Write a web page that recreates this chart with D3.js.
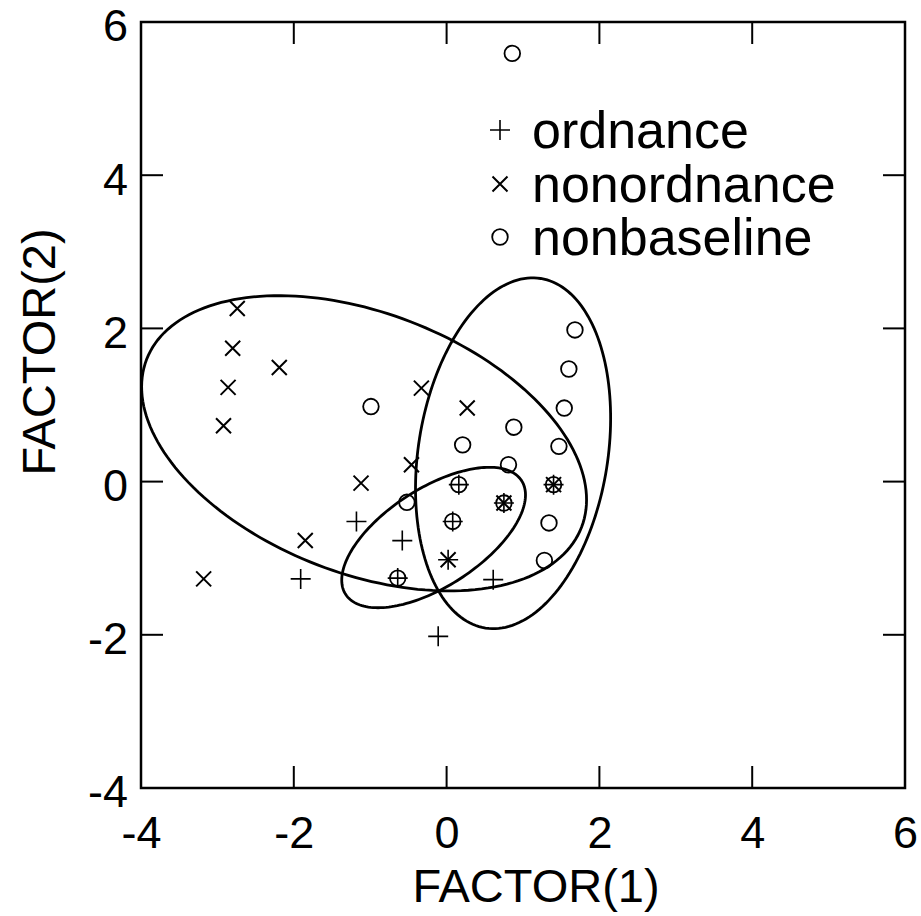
<!DOCTYPE html>
<html>
<head>
<meta charset="utf-8">
<script src="https://cdn.jsdelivr.net/npm/d3@7"></script>
<style>
  html, body { margin: 0; padding: 0; background: #fff; }
  svg { display: block; }
  text { font-family: "Liberation Sans", Arial, Helvetica, sans-serif; fill: #000; }
</style>
</head>
<body>
<svg id="chart" width="921" height="916"></svg>
<script>
// ---- data ----
const tickValues = [-4, -2, 0, 2, 4, 6];
const xTitle = "FACTOR(1)";
const yTitle = "FACTOR(2)";
const legendLabels = ["ordnance", "nonordnance", "nonbaseline"];

const ordnance = [[-1.18,-0.52],[-0.58,-0.77],[-1.91,-1.27],[-0.11,-2.02],[0.61,-1.28],
  [0.16,-0.04],[0.08,-0.52],[-0.64,-1.26],[0.75,-0.28],[1.40,-0.04],[0.02,-1.02]];
const nonordnance = [[-2.74,2.26],[-2.80,1.74],[-2.19,1.49],[-2.86,1.23],[-2.92,0.73],
  [-0.33,1.22],[0.27,0.96],[-0.46,0.22],[-1.12,-0.02],[-1.85,-0.77],[-3.18,-1.27],
  [0.75,-0.28],[1.40,-0.04],[0.02,-1.02]];
const nonbaseline = [[0.86,5.59],[-0.99,0.98],[1.68,1.98],[1.60,1.47],[1.54,0.96],
  [0.88,0.71],[0.21,0.48],[1.47,0.46],[0.81,0.22],[-0.52,-0.27],[1.34,-0.54],[1.28,-1.03],
  [0.16,-0.04],[0.08,-0.52],[-0.64,-1.26],[0.75,-0.28],[1.40,-0.04]];

// confidence ellipses (center, semi-axes, rotation in degrees)
const ellipseGroups = ["nonordnance", "nonbaseline", "ordnance"];
const ellipseCX = [-1.08, 0.87, -0.17];
const ellipseCY = [0.50, 0.37, -0.73];
const ellipseA = [3.05, 2.31, 1.37];
const ellipseB = [1.70, 1.24, 0.64];
const ellipseAngle = [-21, 81, 32.8];

// ---- layout ----
const L = 141, R = 905, T = 22, B = 788;
const svg = d3.select("#chart");
const x = d3.scaleLinear().domain([-4, 6]).range([L, R]);
const y = d3.scaleLinear().domain([-4, 6]).range([B, T]);

svg.append("defs").append("clipPath").attr("id", "plotclip")
  .append("rect").attr("x", L).attr("y", T).attr("width", R - L).attr("height", B - T);

const fontTick = 45;
const inner = tickValues.filter(v => v > -4 && v < 6);
const fmt = d => String(d);

// axes
const gB = svg.append("g").attr("transform", `translate(0,${B})`)
  .call(d3.axisBottom(x).tickValues(tickValues).tickSize(0).tickPadding(28).tickFormat(fmt));
const gL = svg.append("g").attr("transform", `translate(${L},0)`)
  .call(d3.axisLeft(y).tickValues(tickValues).tickSize(0).tickPadding(13).tickFormat(fmt));
[gB, gL].forEach(g => {
  g.select(".domain").remove();
  g.selectAll("text").attr("font-size", fontTick).style("font-family", '"Liberation Sans", Arial, sans-serif').attr("fill", "#000");
});
gL.selectAll("text").attr("dy", "0.42em");

// inward ticks on all sides
const tickLen = 22;
const ticks = svg.append("g").attr("stroke", "#000").attr("stroke-width", 2);
inner.forEach(v => {
  ticks.append("line").attr("x1", x(v)).attr("x2", x(v)).attr("y1", B).attr("y2", B - tickLen);
  ticks.append("line").attr("x1", x(v)).attr("x2", x(v)).attr("y1", T).attr("y2", T + tickLen);
  ticks.append("line").attr("y1", y(v)).attr("y2", y(v)).attr("x1", L).attr("x2", L + tickLen);
  ticks.append("line").attr("y1", y(v)).attr("y2", y(v)).attr("x1", R).attr("x2", R - tickLen);
});

// frame
svg.append("rect").attr("x", L).attr("y", T).attr("width", R - L).attr("height", B - T)
  .attr("fill", "none").attr("stroke", "#000").attr("stroke-width", 2.5);

// titles
svg.append("text").attr("x", 536).attr("y", 902).attr("text-anchor", "middle")
  .attr("font-size", 47).text(xTitle);
svg.append("text").attr("transform", `translate(55,352) rotate(-90)`).attr("text-anchor", "middle")
  .attr("font-size", 47).text(yTitle);

// ellipses
const plot = svg.append("g").attr("clip-path", "url(#plotclip)");
const lineGen = d3.line().x(d => x(d[0])).y(d => y(d[1])).curve(d3.curveLinearClosed);
ellipseGroups.forEach((g, i) => {
  const th = ellipseAngle[i] * Math.PI / 180;
  const pts = d3.range(0, 360, 2).map(t => {
    const a = t * Math.PI / 180;
    const ex = ellipseA[i] * Math.cos(a), ey = ellipseB[i] * Math.sin(a);
    return [ellipseCX[i] + ex * Math.cos(th) - ey * Math.sin(th),
            ellipseCY[i] + ex * Math.sin(th) + ey * Math.cos(th)];
  });
  plot.append("path").attr("d", lineGen(pts)).attr("fill", "none")
    .attr("stroke", "#000").attr("stroke-width", 2.8);
});

// markers
function plus(g, cx, cy, s) {
  g.append("path").attr("d", `M${cx - s},${cy}H${cx + s}M${cx},${cy - s}V${cy + s}`)
    .attr("stroke", "#000").attr("stroke-width", 1.6).attr("fill", "none");
}
function cross(g, cx, cy, s) {
  g.append("path").attr("d", `M${cx - s},${cy - s}L${cx + s},${cy + s}M${cx - s},${cy + s}L${cx + s},${cy - s}`)
    .attr("stroke", "#000").attr("stroke-width", 2).attr("fill", "none");
}
function circ(g, cx, cy, r) {
  g.append("circle").attr("cx", cx).attr("cy", cy).attr("r", r)
    .attr("stroke", "#000").attr("stroke-width", 1.8).attr("fill", "none");
}
const mk = svg.append("g");
ordnance.forEach(d => plus(mk, x(d[0]), y(d[1]), 10));
nonordnance.forEach(d => cross(mk, x(d[0]), y(d[1]), 7.5));
nonbaseline.forEach(d => circ(mk, x(d[0]), y(d[1]), 7.8));

// legend
const legY = [130, 184, 237];
const lg = svg.append("g");
plus(lg, 500, legY[0], 10);
cross(lg, 500, legY[1], 7.5);
circ(lg, 500, legY[2], 7.8);
legendLabels.forEach((t, i) => {
  lg.append("text").attr("x", 532).attr("y", legY[i]).attr("dy", "0.35em")
    .attr("font-size", 52).text(t);
});
</script>
</body>
</html>
